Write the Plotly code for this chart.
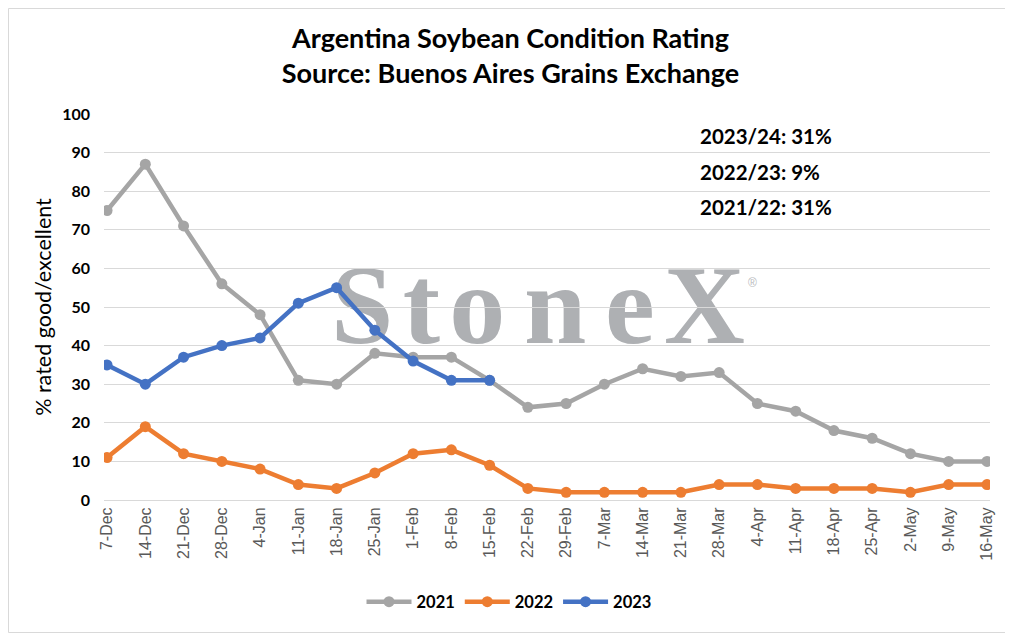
import plotly.graph_objects as go

# --- data ---
weeks = ["7-Dec", "14-Dec", "21-Dec", "28-Dec", "4-Jan", "11-Jan", "18-Jan", "25-Jan",
         "1-Feb", "8-Feb", "15-Feb", "22-Feb", "29-Feb", "7-Mar", "14-Mar", "21-Mar",
         "28-Mar", "4-Apr", "11-Apr", "18-Apr", "25-Apr", "2-May", "9-May", "16-May"]

rating_2021 = [75, 87, 71, 56, 48, 31, 30, 38, 37, 37, 31, 24, 25, 30, 34, 32,
               33, 25, 23, 18, 16, 12, 10, 10]
rating_2022 = [11, 19, 12, 10, 8, 4, 3, 7, 12, 13, 9, 3, 2, 2, 2, 2,
               4, 4, 3, 3, 3, 2, 4, 4]
rating_2023 = [35, 30, 37, 40, 42, 51, 55, 44, 36, 31, 31]

season_notes = ["2023/24: 31%", "2022/23: 9%", "2021/22: 31%"]

# --- layout constants ---
# the page puts the plot div 8px in from the window corner, so the figure is
# sized a bit smaller and positions below are given in window pixels
OFF = 8
W, H = 1013 - OFF, 634 - OFF
L, R, T, B = 104 - OFF, 23, 114 - OFF, 134
PW, PH = W - L - R, H - T - B


def px_x(p):
    return (p - OFF - L) / PW


def px_y(p):
    return (H - B - (p - OFF)) / PH


series = [
    ("2021", rating_2021, "#A5A5A5"),
    ("2022", rating_2022, "#ED7D31"),
    ("2023", rating_2023, "#4472C4"),
]

fig = go.Figure()
for name, vals, col in series:
    fig.add_trace(go.Scatter(
        x=weeks[:len(vals)], y=vals, name=name, mode="lines+markers",
        line=dict(color=col, width=4.5),
        marker=dict(color=col, size=11),
    ))

# season summary text block
annos = []
for i, txt in enumerate(season_notes):
    annos.append(dict(
        text=txt, xref="paper", yref="paper", x=px_x(698), y=px_y(136 + i * 35.5),
        xanchor="left", yanchor="middle", showarrow=False,
        font=dict(family="Lato", size=20.5, color="#000000", weight="bold"),
    ))
# registered mark of the watermark
annos.append(dict(
    text="®", xref="paper", yref="paper", x=px_x(752), y=px_y(283),
    xanchor="center", yanchor="middle", showarrow=False,
    font=dict(family="Liberation Sans", size=12, color="#B8BABD"),
))

HS = "\u200a"
shapes = [
    # StoneX watermark sits under the gridlines
    dict(type="rect", xref="paper", yref="paper",
         x0=px_x(330), x1=px_x(746), y0=px_y(337), y1=px_y(249),
         line=dict(width=0), fillcolor="rgba(0,0,0,0)", layer="below",
         label=dict(text="S" + HS + "t" + HS + "o" + HS * 2 + "n" + HS * 2 + "e" + HS + "X",
                    textposition="middle center",
                    font=dict(family="Liberation Serif", size=112, color="#AEB0B3",
                              weight="bold"))),
    # chart border
    dict(type="rect", xref="paper", yref="paper",
         x0=px_x(OFF + 0.5), x1=px_x(1011.5), y0=px_y(632.5), y1=px_y(OFF + 0.5),
         line=dict(color="#D9D9D9", width=1), fillcolor="rgba(0,0,0,0)"),
]

fig.update_layout(
    width=W, height=H,
    margin=dict(l=L, r=R, t=T, b=B),
    paper_bgcolor="#FFFFFF",
    plot_bgcolor="rgba(0,0,0,0)",
    title=dict(
        text="<b>Argentina Soybean Condition Rating<br>Source: Buenos Aires Grains Exchange</b>",
        x=0.5, xanchor="center", y=1 - (48 - OFF) / H, yanchor="middle",
        font=dict(family="Lato", size=27, color="#000000"),
    ),
    xaxis=dict(
        type="category", range=[-0.08, 23.08], tickangle=-90,
        showgrid=False, showline=True, linecolor="#D9D9D9", ticks="",
        tickfont=dict(family="Liberation Sans", size=16, color="#595959"),
    ),
    yaxis=dict(
        range=[0, 100], dtick=10, showgrid=True, gridcolor="#D9D9D9", gridwidth=1,
        zeroline=False, ticks="", ticklabelstandoff=13,
        tickfont=dict(family="Lato", size=16, color="#000000", weight="bold"),
        title=dict(text="% rated good/excellent", standoff=4,
                   font=dict(family="Lato", size=21.5, color="#000000")),
    ),
    legend=dict(
        orientation="h", x=px_x(509), xanchor="center",
        y=px_y(602), yanchor="middle", itemwidth=45,
        font=dict(family="Lato", size=16.5, color="#000000", weight="bold"),
    ),
    annotations=annos,
    shapes=shapes,
)

fig.write_html("out.html")
